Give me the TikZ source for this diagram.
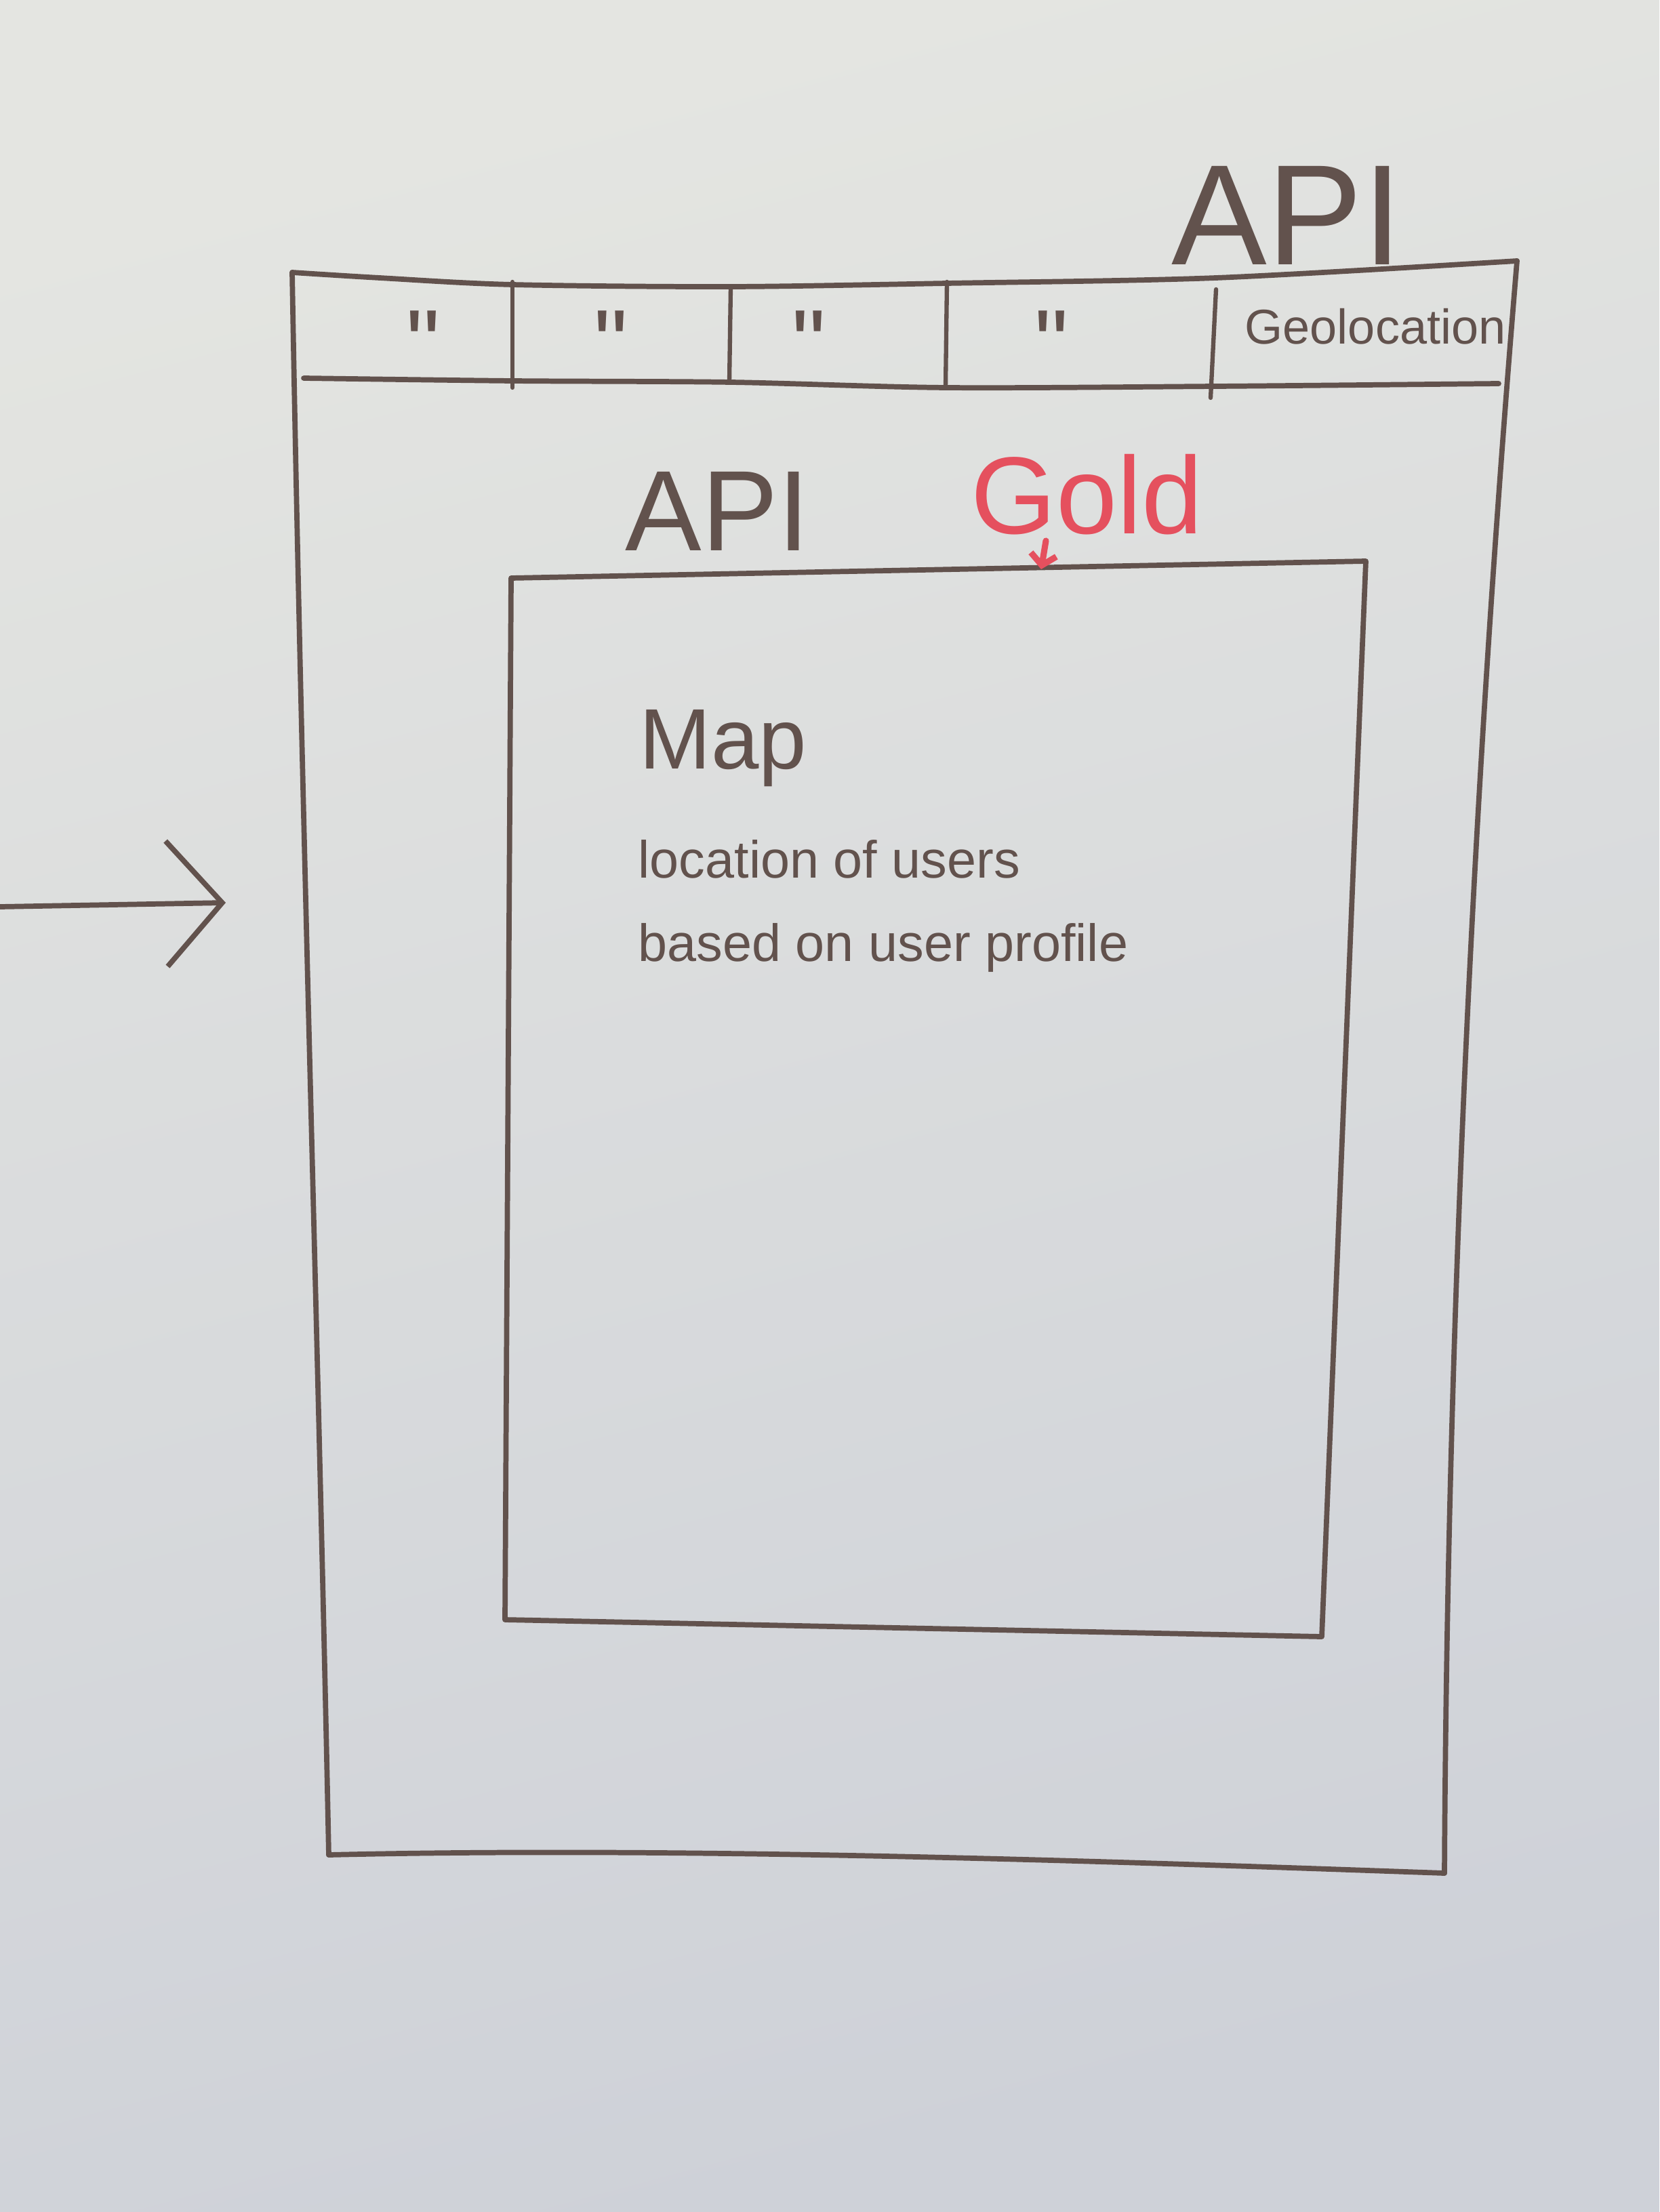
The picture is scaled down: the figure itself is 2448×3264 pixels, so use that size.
\documentclass[tikz,border=0pt]{standalone}
\usepackage{fontspec}
\setmainfont{Liberation Sans}
\newfontfamily\dittofont{Liberation Sans}
\usetikzlibrary{arrows.meta}
\definecolor{board}{HTML}{E4E5E1}
\definecolor{boardlow}{HTML}{CED1D8}
\definecolor{ink}{HTML}{62524D}
\definecolor{redink}{HTML}{E5505E}
\begin{document}
\begin{tikzpicture}[x=0.01cm,y=-0.01cm,
  pen/.style={draw=ink, line width=2.2pt, line cap=round, line join=round},
  thinpen/.style={draw=ink, line width=1.8pt, line cap=round},
  label/.style={text=ink, inner sep=0pt, anchor=base west},
  ditto/.style={text=ink, inner sep=0pt, anchor=north, font=\dittofont\fontsize{40}{40}\selectfont},
]
% whiteboard
\shade[top color=board, bottom color=boardlow, shading angle=15] (0,0) rectangle (2448,3264);
\useasboundingbox (0,0) rectangle (2448,3264);

% outer frame corners
\coordinate (oTL) at (431,402);
\coordinate (oTR) at (2238,385);
\coordinate (oBR) at (2131,2764);
\coordinate (oBL) at (485,2737);

% top edge of the frame (also the top of the tab bar)
\draw[pen] plot[smooth, tension=0.5] coordinates
  {(oTL) (560,410) (756,420) (1078,423) (1397,418) (1794,410) (oTR)};
% sides and bottom
\draw[pen] (oTR) .. controls (2170,1200) and (2135,2000) .. (oBR);
\draw[pen] (oBR) .. controls (1600,2745) and (1000,2725) .. (oBL);
\draw[pen] (oBL) .. controls (470,2000) and (445,1200) .. (oTL);

% bottom of the tab bar
\draw[pen] plot[smooth, tension=0.5] coordinates
  {(448,558) (756,562) (1078,564) (1397,572) (1794,570) (2211,566)};

% tab separators
\draw[thinpen] (756,416) -- (756,572);
\draw[thinpen] (1078,423) -- (1076,564);
\draw[thinpen] (1397,416) -- (1395,572);
\draw[thinpen] (1794,427) -- (1786,587);

% tab labels
\node[ditto] (t1) at (624,458) {"};
\node[ditto] (t2) at (901,458) {"};
\node[ditto] (t3) at (1193,458) {"};
\node[ditto] (t4) at (1551,458) {"};
\node[label, font=\fontsize{20.5}{22}\selectfont] (geo) at (1836,508) {Geolocation};

% headings
\node[label, font=\fontsize{60}{62}\selectfont] (apitop) at (1728,391) {API};
\node[label, font=\fontsize{48}{50}\selectfont] (apimid) at (922,812) {API};
\node[label, text=redink, font=\fontsize{46}{48}\selectfont] (gold) at (1432,787) {Gold};

% inner map panel
\coordinate (iTL) at (754,853);
\coordinate (iTR) at (2015,828);
\coordinate (iBR) at (1950,2415);
\coordinate (iBL) at (745,2390);
\draw[pen] (iTL) -- (iTR) -- (iBR) -- (iBL) -- cycle;

\node[label, font=\fontsize{36}{38}\selectfont] (map) at (943,1134) {Map};
\node[label, font=\fontsize{22}{24}\selectfont] (loc) at (941,1295) {location of users};
\node[label, font=\fontsize{22}{24}\selectfont] (based) at (941,1418) {based on user profile};

% red pointer from the Gold label to the panel
\coordinate (ga) at (1543,798);
\coordinate (gb) at (1536,840);
\draw[draw=redink, line width=2.6pt, line cap=round,
  -{Straight Barb[length=0.16cm, width=0.38cm]}] (ga) -- (gb);

% incoming arrow on the left
\coordinate (in0) at (0,1338);
\coordinate (in1) at (333,1332);
\draw[pen, -{Straight Barb[length=0.82cm, width=1.85cm]}] (in0) -- (in1);
\end{tikzpicture}
\end{document}
